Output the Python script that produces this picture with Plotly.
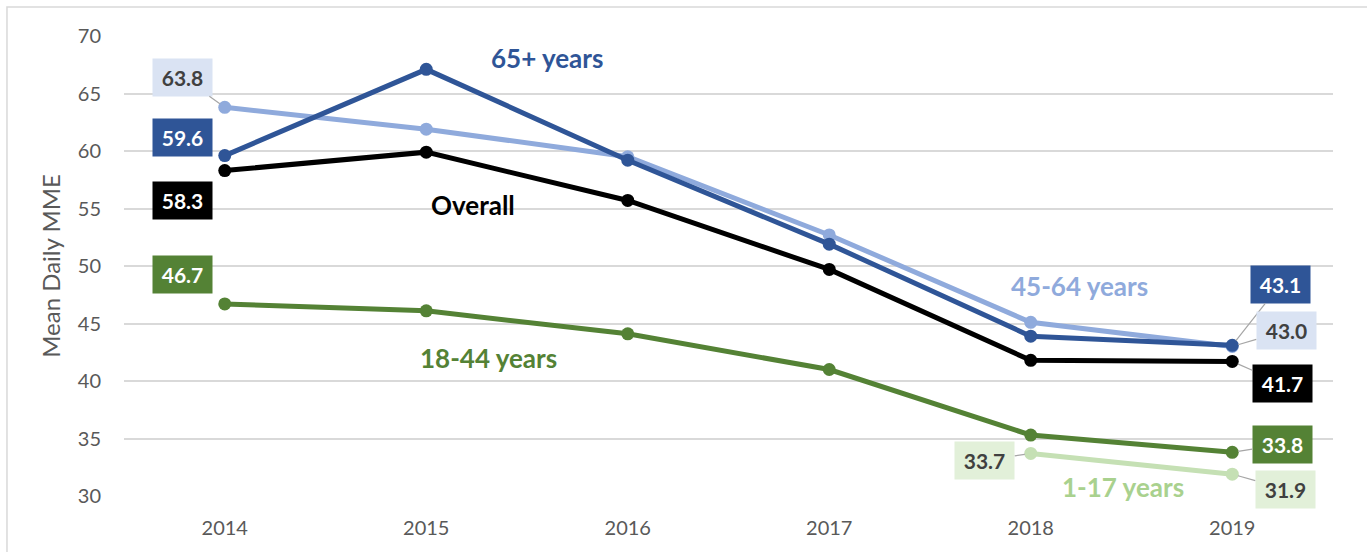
import plotly.graph_objects as go

years = ["2014", "2015", "2016", "2017", "2018", "2019"]
overall = [58.3, 59.9, 55.7, 49.7, 41.8, 41.7]
age_65_plus = [59.6, 67.1, 59.2, 51.9, 43.9, 43.1]
age_45_64 = [63.8, 61.9, 59.5, 52.7, 45.1, 43.0]
age_18_44 = [46.7, 46.1, 44.1, 41.0, 35.3, 33.8]
age_1_17 = [None, None, None, None, 33.7, 31.9]

y_ticks = [30, 35, 40, 45, 50, 55, 60, 65, 70]

FONT = "Lato"
C65 = "#2F5597"
C4564 = "#8FAADC"
CALL = "#000000"
C1844 = "#548235"
C117 = "#C5E0B4"

series = [
    ("1-17 years", age_1_17, C117),
    ("18-44 years", age_18_44, C1844),
    ("Overall", overall, CALL),
    ("45-64 years", age_45_64, C4564),
    ("65+ years", age_65_plus, C65),
]

fig = go.Figure()
xi = list(range(len(years)))
for name, vals, col in series:
    fig.add_trace(go.Scatter(
        x=xi, y=vals, name=name, mode="lines+markers",
        line=dict(color=col, width=5),
        marker=dict(color=col, size=13),
        connectgaps=False, hoverinfo="skip",
    ))

annotations = []

def box_label(i, vals, bg, fg, dx, dy, arrow=False):
    v = vals[i]
    a = dict(
        x=i, y=v, xref="x", yref="y",
        text="<b>%.1f</b>" % v,
        font=dict(family=FONT, size=21, color=fg),
        bgcolor=bg, borderpad=0, width=59, height=37,
        align="center", valign="middle",
    )
    if arrow:
        a.update(showarrow=True, arrowhead=0, arrowwidth=1.2,
                 arrowcolor="#A6A6A6", ax=dx, ay=-dy, standoff=6)
    else:
        a.update(showarrow=False, xshift=dx, yshift=dy)
    annotations.append(a)

LB = "#DAE3F3"
LG = "#E2F0D9"
TXT = "#404040"
# left side labels (2014)
box_label(0, age_45_64, LB, TXT, -42, 30, arrow=True)
box_label(0, age_65_plus, C65, "white", -42, 18)
box_label(0, overall, CALL, "white", -42, -30)
box_label(0, age_18_44, C1844, "white", -42, 29.5)
# right side labels (2019)
box_label(5, age_65_plus, C65, "white", 48, 61, arrow=True)
box_label(5, age_45_64, LB, TXT, 54, 16, arrow=True)
box_label(5, overall, CALL, "white", 50, -22, arrow=True)
box_label(5, age_18_44, C1844, "white", 50, 8, arrow=True)
box_label(5, age_1_17, LG, TXT, 53, -15, arrow=True)
box_label(4, age_1_17, LG, TXT, -46, -7, arrow=True)

# series name labels
names = [
    ("65+ years", 1.60, 68.1, C65),
    ("Overall", 1.23, 55.3, CALL),
    ("45-64 years", 4.24, 48.3, C4564),
    ("18-44 years", 1.31, 42.0, C1844),
    ("1-17 years", 4.46, 30.8, "#A9D18E"),
]
for t, x, y, c in names:
    annotations.append(dict(
        x=x, y=y, xref="x", yref="y", text="<b>%s</b>" % t, showarrow=False,
        font=dict(family=FONT, size=26, color=c),
    ))

fig.update_layout(
    width=1367, height=552,
    margin=dict(l=124, r=34, t=36, b=56, autoexpand=False),
    paper_bgcolor="white", plot_bgcolor="white",
    showlegend=False,
    annotations=annotations,
    font=dict(family=FONT, color="#595959"),
    shapes=[dict(type="rect", xref="paper", yref="paper",
                 x0=-0.0968, x1=1.06, y0=-0.15, y1=1.063,
                 line=dict(color="#D9D9D9", width=1.5), layer="below")],
)
fig.update_xaxes(
    range=[-0.5, 5.5], tickmode="array", tickvals=xi, ticktext=years,
    showgrid=False, zeroline=False, showline=False, automargin=False,
    tickfont=dict(family=FONT, size=20, color="#595959"),
    ticks="", ticklabelstandoff=18,
)
fig.update_yaxes(
    range=[30, 70], tickmode="array", tickvals=y_ticks,
    showgrid=True, gridcolor="#D9D9D9", gridwidth=1.5,
    zeroline=False, showline=False, automargin=False,
    tickfont=dict(family=FONT, size=20, color="#595959"),
    ticks="", ticklabelstandoff=22,
    title=dict(text="Mean Daily MME", font=dict(family=FONT, size=24, color="#595959"), standoff=10),
)

fig.write_html(
    "out.html",
    config={"displayModeBar": False},
    post_script="document.body.style.margin='0';document.body.style.overflow='hidden';",
)
